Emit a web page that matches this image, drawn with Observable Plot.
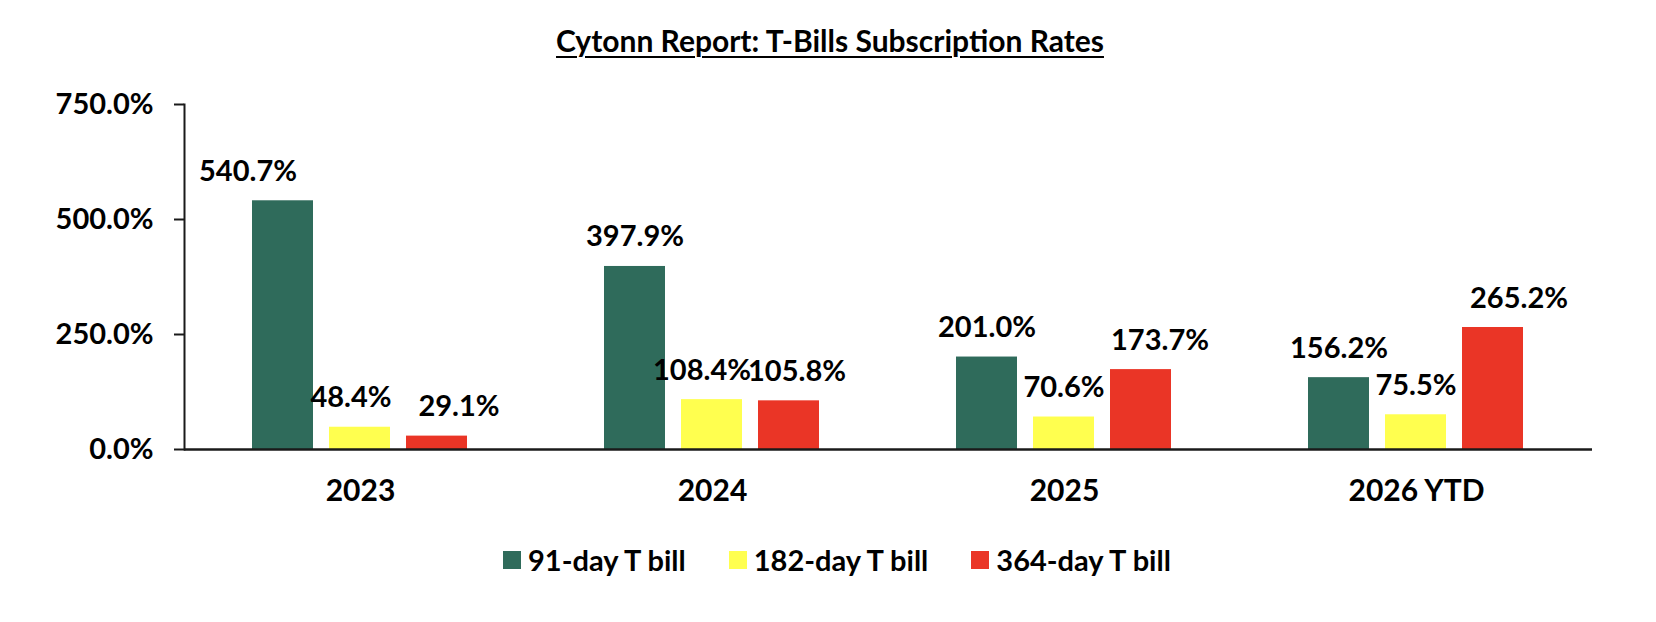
<!DOCTYPE html>
<html><head><meta charset="utf-8">
<script src="https://cdn.jsdelivr.net/npm/d3@7"></script>
<script src="https://cdn.jsdelivr.net/npm/@observablehq/plot@0.6"></script>
<style>
html,body{margin:0;padding:0;background:#fff;}
body{position:relative;width:1656px;height:622px;overflow:hidden;font-family:Lato,"Open Sans",sans-serif;font-weight:700;color:#000;}
#title{position:absolute;left:0;top:0;width:1656px;height:70px;text-align:center;}
#title span{position:absolute;left:830px;top:22px;transform:translateX(-50%);font-size:30px;text-decoration:underline;text-decoration-thickness:2px;text-underline-offset:4px;white-space:nowrap;}
#chart{position:absolute;left:0;top:70px;}
#legend{position:absolute;left:503px;top:542px;display:flex;align-items:center;font-size:29px;white-space:nowrap;}
.item{display:flex;align-items:center;margin-right:43px;}
.sw{width:18px;height:18px;margin-right:7px;}
</style></head><body>
<div id="title"><span>Cytonn Report: T-Bills Subscription Rates</span></div>
<div id="chart"></div>
<div id="legend"></div>
<script>
const years = ["2023", "2024", "2025", "2026 YTD"];
const seriesNames = ["91-day T bill", "182-day T bill", "364-day T bill"];
const bill91 = [540.7, 397.9, 201.0, 156.2];
const bill182 = [48.4, 108.4, 70.6, 75.5];
const bill364 = [29.1, 105.8, 173.7, 265.2];
const yTicks = [0, 250, 500, 750];
const colors = ["#2F6B5B", "#FFFF4F", "#EA3526"];

// horizontal nudges of some value labels, as placed in the original
const labelNudge = {
  "2023|91-day T bill": -35, "2023|182-day T bill": -9, "2023|364-day T bill": 22,
  "2024|182-day T bill": -10, "2024|364-day T bill": 8,
  "2025|364-day T bill": 19, "2026 YTD|364-day T bill": 26
};

const seriesValues = [bill91, bill182, bill364];
const data = years.flatMap((y, i) => seriesValues.map((arr, j) => ({year: y, series: seriesNames[j], value: arr[i]})));
const pct = d => d.toFixed(1) + "%";
const nudgeOf = d => labelNudge[d.year + "|" + d.series] || 0;
const nudgeGroups = [...new Set(data.map(nudgeOf))];

const plot = Plot.plot({
  width: 1656, height: 450,
  marginLeft: 182, marginRight: 63, marginTop: 34, marginBottom: 71,
  style: {fontFamily: "Lato, 'Open Sans', sans-serif", fontWeight: 700, fontSize: "29px", color: "#000", background: "#fff", overflow: "visible"},
  fx: {domain: years, padding: 0, label: null},
  x: {domain: seriesNames, paddingInner: 0.205, paddingOuter: 0.864, axis: null},
  y: {domain: [0, 750], label: null},
  color: {domain: seriesNames, range: colors},
  marks: [
    Plot.barY(data, {fx: "year", x: "series", y: "value", fill: "series"}),
    ...nudgeGroups.map(n => Plot.text(data.filter(d => nudgeOf(d) === n), {fx: "year", x: "series", y: "value", text: d => pct(d.value), lineAnchor: "bottom", dy: -20, dx: n, fontSize: 29, fontWeight: 700, fill: "#000"})),
    Plot.axisY(yTicks, {tickFormat: pct, tickSize: 10, tickPadding: 21, fontSize: 29, fontWeight: 700, stroke: "#1a1a1a", strokeWidth: 2, label: null}),
    Plot.axisFx({anchor: "bottom", tickSize: 0, tickPadding: 30, fontSize: 30, fontWeight: 700, label: null}),
    Plot.frame({anchor: "left", facet: "super", stroke: "#1a1a1a", strokeWidth: 2}),
    Plot.ruleY([0], {stroke: "#1a1a1a", strokeWidth: 2.5})
  ]
});
document.getElementById("chart").appendChild(plot);

const legend = document.getElementById("legend");
seriesNames.forEach((name, i) => {
  const it = document.createElement("div");
  it.className = "item";
  const sw = document.createElement("div");
  sw.className = "sw";
  sw.style.background = colors[i];
  const tx = document.createElement("span");
  tx.textContent = name;
  it.appendChild(sw); it.appendChild(tx);
  legend.appendChild(it);
});
</script>
</body></html>
